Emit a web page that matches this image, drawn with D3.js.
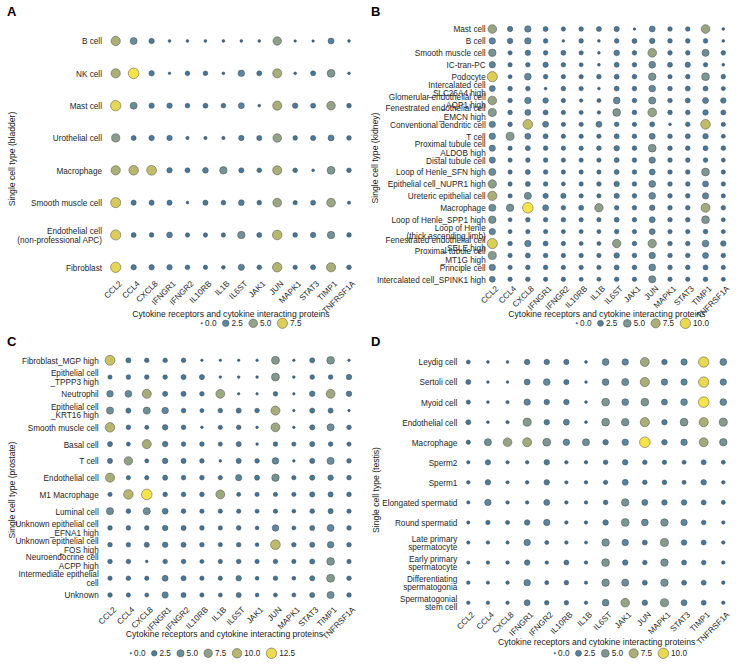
<!DOCTYPE html>
<html><head><meta charset="utf-8">
<script src="https://cdn.jsdelivr.net/npm/d3@7"></script>
<style>
body{margin:0;background:#fff;}
svg{font-family:"Liberation Sans",Arial,Helvetica,sans-serif;}
</style></head>
<body><svg id="chart" width="743" height="664"></svg>
<script>
const genes = ["CCL2","CCL4","CXCL8","IFNGR1","IFNGR2","IL10RB","IL1B","IL6ST","JAK1","JUN","MAPK1","STAT3","TIMP1","TNFRSF1A"];

const bladderCells = ["B cell","NK cell","Mast cell","Urothelial cell","Macrophage","Smooth muscle cell","Endothelial cell\n(non-professional APC)","Fibroblast"];
const bladderValues = [
 [6.0,3.0,1.5,0.15,0.15,0.15,0.15,0.15,0.15,4.8,0.1,0.1,2.0,0.15],
 [6.0,8.3,1.5,0.1,1.0,1.0,0.15,2.5,1.2,5.8,0.15,1.2,4.0,0.15],
 [7.8,3.0,1.5,1.5,1.0,1.2,1.0,2.0,0.15,5.8,1.5,1.2,5.0,1.0],
 [4.5,1.2,1.5,1.5,0.3,0.3,0.3,1.5,1.3,5.0,1.0,1.3,2.0,1.0],
 [6.0,6.5,6.8,1.5,1.2,1.8,3.5,1.3,1.0,5.8,1.0,0.15,4.0,1.0],
 [7.3,1.3,1.3,1.3,0.15,1.3,1.0,1.8,1.0,5.2,0.8,1.2,5.2,0.3],
 [7.5,1.2,1.0,1.8,0.8,0.8,0.8,3.5,1.2,6.5,1.0,1.5,3.5,1.0],
 [7.8,1.5,1.5,1.5,1.0,0.8,0.5,2.2,1.0,6.3,0.8,1.2,5.8,1.0]
];
const bladderBreaks = [0,2.5,5,7.5];

const kidneyCells = ["Mast cell","B cell","Smooth muscle cell","IC-tran-PC","Podocyte","Intercalated cell\n_SLC26A4 high","Glomerular endothelial cell\n_AQP1 high","Fenestrated endothelial cell\n_EMCN high","Conventional dendritic cell","T cell","Proximal tubule cell\n_ALDOB high","Distal tubule cell","Loop of Henle_SFN high","Epithelial cell_NUPR1 high","Ureteric epithelial cell","Macrophage","Loop of Henle_SPP1 high","Loop of Henle\n(thick ascending limb)","Fenestrated endothelial cell\n_SELE high","Proximal tubule cell\n_MT1G high","Principle cell","Intercalated cell_SPINK1 high"];
const kidneyValues = [
 [6.5,1.8,3.0,1.5,1.0,1.2,1.5,1.8,0.15,2.5,1.2,1.2,6.5,0.2],
 [3.0,2.0,3.0,1.2,0.15,1.2,0.2,1.2,1.5,2.0,1.2,1.2,1.2,0.2],
 [4.5,1.0,2.0,1.2,1.5,1.0,0.2,2.2,1.2,6.5,1.2,1.2,4.0,1.2],
 [3.0,1.0,1.2,1.8,1.2,0.8,0.2,1.5,1.2,3.5,1.5,1.8,1.0,0.2],
 [9.5,0.8,3.5,1.2,1.0,1.0,1.2,1.5,1.2,4.5,1.0,1.2,5.0,1.2],
 [2.5,1.2,1.2,0.2,1.2,1.0,0.2,1.5,1.2,3.5,1.2,1.5,1.5,0.8],
 [6.5,1.2,3.0,2.0,1.0,0.5,0.8,3.5,1.2,4.0,1.2,1.5,2.5,2.0],
 [5.5,1.2,2.5,1.5,1.0,0.8,0.5,5.0,1.2,6.5,1.2,1.2,2.0,1.5],
 [3.0,1.2,8.5,2.5,1.0,1.0,2.5,1.2,1.0,1.5,0.2,1.2,8.5,1.0],
 [3.0,5.5,2.5,1.5,1.0,1.0,1.0,1.5,1.2,2.5,1.2,1.5,2.0,0.8],
 [2.8,1.0,1.5,1.2,1.0,1.0,1.2,2.0,1.2,5.0,1.2,1.2,1.5,1.2],
 [2.8,1.0,1.2,1.2,1.0,1.0,1.0,1.5,1.2,3.0,1.2,1.2,1.2,0.8],
 [4.0,1.0,1.5,1.2,1.0,1.0,1.0,1.5,1.2,2.5,1.2,1.2,5.0,1.0],
 [6.0,1.0,1.5,1.2,0.8,1.0,1.2,2.0,1.2,3.5,1.2,1.2,2.5,1.0],
 [7.5,1.0,4.0,1.8,1.8,1.0,1.0,1.8,1.2,3.5,1.2,1.2,3.0,1.0],
 [4.0,4.5,10.5,2.5,1.2,1.5,6.0,1.2,1.2,2.0,1.2,1.2,7.0,1.2],
 [4.5,0.8,1.2,1.2,1.2,1.0,1.0,1.5,1.2,2.5,1.2,1.2,5.0,0.8],
 [3.0,0.8,1.0,1.0,0.8,0.8,0.8,1.2,1.0,2.5,1.0,1.0,1.2,0.8],
 [9.5,1.2,3.0,1.5,1.0,0.8,0.8,6.0,1.2,6.0,1.2,1.2,3.5,2.0],
 [5.5,1.0,1.5,1.2,1.0,1.0,1.0,2.0,1.2,3.0,1.2,1.2,2.5,1.2],
 [3.0,1.0,1.2,1.2,1.0,1.0,1.0,1.5,1.2,3.5,1.2,1.2,1.5,1.0],
 [2.5,1.0,1.2,1.0,1.0,0.8,0.8,1.2,1.0,4.0,1.0,1.0,1.2,0.8]
];
const kidneyBreaks = [0,2.5,5,7.5,10];

const prostateCells = ["Fibroblast_MGP high","Epithelial cell\n_TPPP3 high","Neutrophil","Epithelial cell\n_KRT16 high","Smooth muscle cell","Basal cell","T cell","Endothelial cell","M1 Macrophage","Luminal cell","Unknown epithelial cell\n_EFNA1 high","Unknown epithelial cell\n_FOS high","Neuroendocrine cell\n_ACPP high","Intermediate epithelial\ncell","Unknown"];
const prostateValues = [
 [11.0,2.0,1.5,1.5,1.5,0.15,0.15,0.15,0.15,6.5,0.15,2.0,6.0,0.15],
 [1.2,1.5,1.5,1.5,2.0,2.0,0.2,0.2,0.2,6.5,0.2,1.5,1.5,2.5],
 [4.0,4.5,9.0,2.0,2.0,1.5,8.5,0.15,0.15,1.5,0.15,2.5,8.5,2.5],
 [5.0,2.0,5.0,4.0,1.5,1.0,1.5,2.0,1.5,9.0,0.15,2.0,2.0,0.15],
 [10.0,1.5,1.0,2.5,1.5,0.2,1.2,1.5,0.2,8.5,0.15,2.0,5.0,1.5],
 [2.0,1.0,9.0,2.5,1.5,1.5,1.2,2.0,0.2,1.5,1.2,2.0,1.5,1.2],
 [2.0,7.5,1.0,2.5,2.0,1.5,0.2,2.0,1.5,4.0,0.2,2.0,5.0,1.5],
 [9.0,1.2,1.2,2.0,1.5,1.5,1.2,3.5,2.0,5.5,1.2,2.0,2.5,1.5],
 [1.2,10.0,13.0,1.5,1.5,1.5,8.5,1.0,1.2,1.2,1.2,2.0,2.0,1.5],
 [5.0,1.5,5.0,3.0,1.5,1.2,1.2,1.2,1.0,1.2,0.8,1.5,2.0,1.2],
 [1.5,1.5,1.5,2.5,2.0,1.5,1.2,1.5,0.8,4.0,1.0,2.0,4.5,1.5],
 [1.5,1.5,2.0,2.5,2.0,1.5,1.2,1.5,0.8,10.5,1.5,2.0,4.0,1.5],
 [1.5,1.5,0.2,1.5,1.5,1.0,1.2,1.5,1.2,1.5,1.2,2.0,6.0,1.2],
 [1.2,1.5,1.2,3.0,2.0,1.2,1.2,2.5,0.8,1.5,0.8,2.0,6.5,1.5],
 [1.5,1.2,1.0,3.5,2.0,1.2,1.0,2.0,0.8,1.0,1.0,2.0,5.0,1.5]
];
const prostateBreaks = [0,2.5,5,7.5,10,12.5];

const testisCells = ["Leydig cell","Sertoli cell","Myoid cell","Endothelial cell","Macrophage","Sperm2","Sperm1","Elongated spermatid","Round spermatid","Late primary\nspermatocyte","Early primary\nspermatocyte","Differentiating\nspermatogonia","Spermatogonial\nstem cell"];
const testisValues = [
 [0.8,0.2,0.2,2.0,2.0,1.8,0.2,3.5,3.0,7.0,2.0,3.0,10.0,3.5],
 [1.5,0.15,0.15,2.5,3.5,1.8,0.15,3.5,4.0,7.5,3.0,3.0,10.0,3.0],
 [1.0,0.2,0.4,3.0,2.0,2.0,0.2,5.0,3.5,5.0,2.5,3.5,10.5,3.5],
 [1.5,0.2,0.4,5.5,2.0,2.5,0.2,5.0,4.5,7.5,2.0,5.0,7.5,5.5],
 [1.0,4.0,6.5,7.0,5.0,3.0,4.0,2.0,3.0,10.5,2.0,3.0,7.0,4.5],
 [0.4,1.8,0.4,0.5,2.0,0.5,0.5,1.2,2.0,1.2,1.0,0.8,1.5,0.8],
 [0.5,2.0,0.4,0.5,2.0,0.4,0.5,1.0,2.5,1.2,1.2,0.8,2.0,0.5],
 [0.4,3.0,0.5,0.5,2.5,0.5,0.5,1.2,4.5,2.5,2.0,2.0,1.5,0.8],
 [0.4,1.0,0.8,2.0,3.0,0.5,0.5,2.0,5.0,3.5,4.5,3.0,1.2,0.5],
 [0.4,0.5,0.4,3.0,0.8,0.5,0.3,4.5,3.0,1.5,5.5,2.0,1.5,0.5],
 [0.4,0.5,0.5,2.0,0.5,1.5,0.5,5.0,2.0,1.2,4.5,1.5,1.2,0.5],
 [0.5,0.4,0.5,3.0,0.8,1.2,0.4,4.5,4.0,1.5,4.5,1.5,1.5,0.5],
 [0.5,0.5,0.5,2.5,1.2,1.2,0.5,3.5,6.5,2.0,5.5,2.5,1.5,0.5]
];
const testisBreaks = [0,2.5,5,7.5,10];

const xTitle = "Cytokine receptors and cytokine interacting proteins";
const colorStops = [0, 0.3, 0.6, 0.8, 1];
const colorRange = ["#2e6894", "#5c87a0", "#93a287", "#bdb96b", "#f6e349"];

const panels = [
 {letter:"A", lx:7, ly:16, cells:bladderCells, values:bladderValues, breaks:bladderBreaks, ytitle:"Single cell type (bladder)",
  x0:115.7, x1:349, y0:41, y1:267.3, labelRight:102, axisY:280, ytx:15, yty:159, xtx:231, xty:317, legX:201, legY:323.3},
 {letter:"B", lx:371, ly:16, cells:kidneyCells, values:kidneyValues, breaks:kidneyBreaks, ytitle:"Single cell type (kidney)",
  x0:492.3, x1:723.3, y0:29, y1:279.3, labelRight:485.7, axisY:285, ytx:378, yty:158, xtx:607, xty:317, legX:576, legY:323.3},
 {letter:"C", lx:7, ly:346, cells:prostateCells, values:prostateValues, breaks:prostateBreaks, ytitle:"Single cell type (prostate)",
  x0:110, x1:349, y0:360.3, y1:595, labelRight:98.7, axisY:606, ytx:14.5, yty:490, xtx:224.5, xty:636.5, legX:130, legY:653.3},
 {letter:"D", lx:371, ly:346, cells:testisCells, values:testisValues, breaks:testisBreaks, ytitle:"Single cell type (testis)",
  x0:468.3, x1:723.3, y0:362, y1:602.7, labelRight:457.3, axisY:611, ytx:379, yty:490, xtx:596.7, xty:645, legX:554, legY:653.3}
];

const svg = d3.select("#chart");
svg.append("rect").attr("width",743).attr("height",664).attr("fill","#fff");

panels.forEach(p => {
  const g = svg.append("g");
  const vmax = d3.max(p.values.flat());
  const x = d3.scalePoint().domain(genes).range([p.x0, p.x1]);
  const y = d3.scalePoint().domain(p.cells).range([p.y0, p.y1]);
  const color = d3.scaleLinear().domain(colorStops.map(f => f * vmax)).range(colorRange).interpolate(d3.interpolateRgb);
  const rScale = d3.scaleSqrt().domain([0, vmax]).range([0, 1]);
  const size = v => 0.8 + 4.5 * rScale(v);

  g.append("text").attr("x", p.lx).attr("y", p.ly).attr("font-size", 13).attr("font-weight", "bold").attr("fill","#000").text(p.letter);

  // Y axis
  const ya = g.append("g").attr("transform", `translate(${p.labelRight},0)`)
    .call(d3.axisLeft(y).tickSize(0).tickPadding(0));
  ya.attr("font-family", null).attr("font-size", null);
  ya.select(".domain").remove();
  ya.selectAll(".tick text").each(function(d){
    const t = d3.select(this);
    const lines = d.split("\n");
    t.text(null).attr("font-size", 8.2).attr("fill", "#262626").attr("dy", null).attr("x", 0);
    lines.forEach((ln, i) => {
      t.append("tspan").attr("x", 0).attr("y", (i - (lines.length - 1) / 2) * 8.8 + 2.9).text(ln);
    });
  });

  // X axis
  const xa = g.append("g").attr("transform", `translate(0,${p.axisY})`)
    .call(d3.axisBottom(x).tickSize(0).tickPadding(0));
  xa.attr("font-family", null).attr("font-size", null);
  xa.select(".domain").remove();
  xa.selectAll(".tick text")
    .attr("font-size", 8.2).attr("fill", "#262626")
    .attr("x", 0).attr("y", 0).attr("dy", "0.72em")
    .attr("text-anchor", "end").attr("transform", "translate(2,0) rotate(-45)");

  // Points
  const pts = [];
  p.values.forEach((row, i) => row.forEach((v, j) => pts.push({cell: p.cells[i], gene: genes[j], v})));
  g.append("g").selectAll("circle").data(pts).join("circle")
    .attr("cx", d => x(d.gene)).attr("cy", d => y(d.cell))
    .attr("r", d => size(d.v))
    .attr("fill", d => color(d.v))
    .attr("stroke", "#4a4a4a").attr("stroke-width", 0.5);

  // Titles
  g.append("text").attr("transform", `translate(${p.ytx},${p.yty}) rotate(-90)`)
    .attr("text-anchor", "middle").attr("font-size", 8.6).attr("fill", "#1a1a1a").text(p.ytitle);
  g.append("text").attr("x", p.xtx).attr("y", p.xty)
    .attr("text-anchor", "middle").attr("font-size", 8.6).attr("fill", "#1a1a1a").text(xTitle);

  // Legend
  let cx = p.legX;
  const lg = g.append("g");
  p.breaks.forEach(b => {
    const r = size(b);
    lg.append("circle").attr("cx", cx + r).attr("cy", p.legY).attr("r", r)
      .attr("fill", color(b)).attr("stroke", "#4a4a4a").attr("stroke-width", 0.5);
    const t = lg.append("text").attr("x", cx + 2 * r + 2.5).attr("y", p.legY + 3)
      .attr("font-size", 8.2).attr("fill", "#262626").text(b.toFixed(1));
    cx += 2 * r + 2.5 + t.node().getComputedTextLength() + 6;
  });
});
</script></body></html>
